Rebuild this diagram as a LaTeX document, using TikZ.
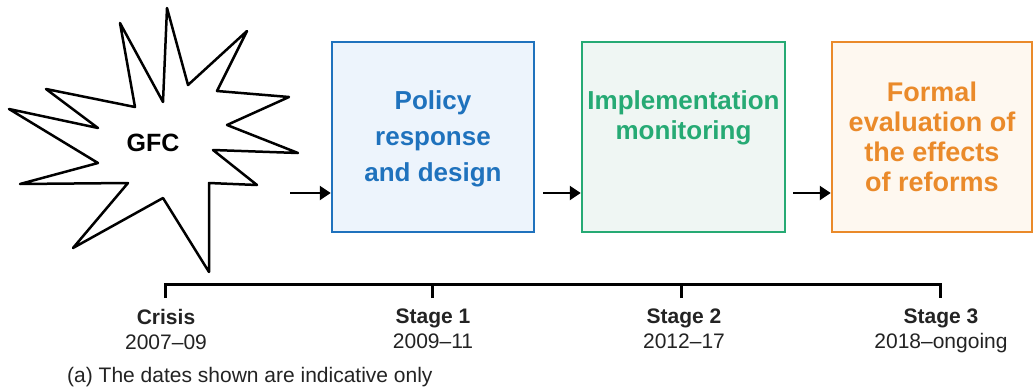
\documentclass[tikz,border=0pt]{standalone}
\usepackage{fontspec}
\setmainfont{Liberation Sans}
\usetikzlibrary{arrows.meta,positioning}
\definecolor{polblue}{RGB}{31,114,189}
\definecolor{polfill}{RGB}{237,244,252}
\definecolor{impgreen}{RGB}{38,170,116}
\definecolor{impfill}{RGB}{239,246,243}
\definecolor{evalorange}{RGB}{234,138,42}
\definecolor{evalfill}{RGB}{254,248,240}
\definecolor{lblgray}{RGB}{35,35,35}

\begin{document}
\begin{tikzpicture}[x=1pt,y=-1pt,
	stagebox/.style={draw,line width=2.5pt,minimum width=#1,minimum height=190pt,inner sep=0pt},
	boxtext/.style={font=\bfseries\fontsize{26}{30}\selectfont,align=center,inner sep=0pt},
	flow/.style={line width=2.4pt,-{Triangle[length=11pt,width=14pt]}},
	timeline/.style={line width=3pt},
	stagelbl/.style={font=\fontsize{21}{25}\selectfont,align=center,inner sep=0pt,anchor=north,text=lblgray}]
		\useasboundingbox (0,0) rectangle (1034,388);
		\fill[white] (0,0) rectangle (1034,388);
		\draw[line width=2.5pt,line join=round] (167,8) -- (188,85) -- (247,31) -- (217,91) -- (289,97) -- (227,125)
		-- (298,153) -- (213,150) -- (257,185) -- (209,183) -- (209,272) -- (163,198) -- (73,248) -- (128,183)
		-- (20,184) -- (98,163) -- (9,109) -- (98,128) -- (46,89) -- (135,107) -- (120,23) -- (163,102) -- cycle;
		\node[font=\bfseries\fontsize{25}{30}\selectfont] (gfc) at (153,143) {GFC};
		\node[stagebox=202pt,draw=polblue,fill=polfill] (policy) at (433,137) {};
		\node[stagebox=203pt,draw=impgreen,fill=impfill] (impl) at (683.5,137) {};
		\node[stagebox=200pt,draw=evalorange,fill=evalfill] (evalbox) at (932,137) {};
		\node[boxtext,text=polblue,font=\bfseries\fontsize{26}{36}\selectfont,below=50pt of policy.north] (policytxt) {Policy\\response\\and design};
		\node[boxtext,text=impgreen,below=50pt of impl.north] (impltxt) {Implementation\\monitoring};
		\node[boxtext,text=evalorange,font=\bfseries\fontsize{27}{30}\selectfont,below=41pt of evalbox.north] (evaltxt) {Formal\\evaluation of\\the effects\\of reforms};
		\coordinate (in1) at (290,193);
		\draw[flow] (in1) -- (in1 -| policy.west);
		\draw[flow] (in1 -| policy.east) ++(8,0) -- (in1 -| impl.west);
		\draw[flow] (in1 -| impl.east) ++(7,0) -- (in1 -| evalbox.west);
		\coordinate (tk0) at (165,298);
		\coordinate (tk1) at (432,298);
		\coordinate (tk2) at (681,298);
		\coordinate (tk3) at (940,298);
		\draw[timeline] (tk0) -- ++(0,-14) -| (tk3);
		\draw[timeline] (tk1) -- ++(0,-14);
		\draw[timeline] (tk2) -- ++(0,-14);
		\node[stagelbl] (crisis) at (166,309) {\textbf{Crisis}\\2007--09};
		\node[stagelbl] (stage1) at (433,309) {\textbf{Stage 1}\\2009--11};
		\node[stagelbl] (stage2) at (684,309) {\textbf{Stage 2}\\2012--17};
		\node[stagelbl] (stage3) at (941,309) {\textbf{Stage 3}\\2018--ongoing};
		\node[font=\fontsize{21}{25}\selectfont,anchor=base west,inner sep=0pt,text=lblgray] (note) at (67,382) {(a) The dates shown are indicative only};
\end{tikzpicture}
\end{document}
